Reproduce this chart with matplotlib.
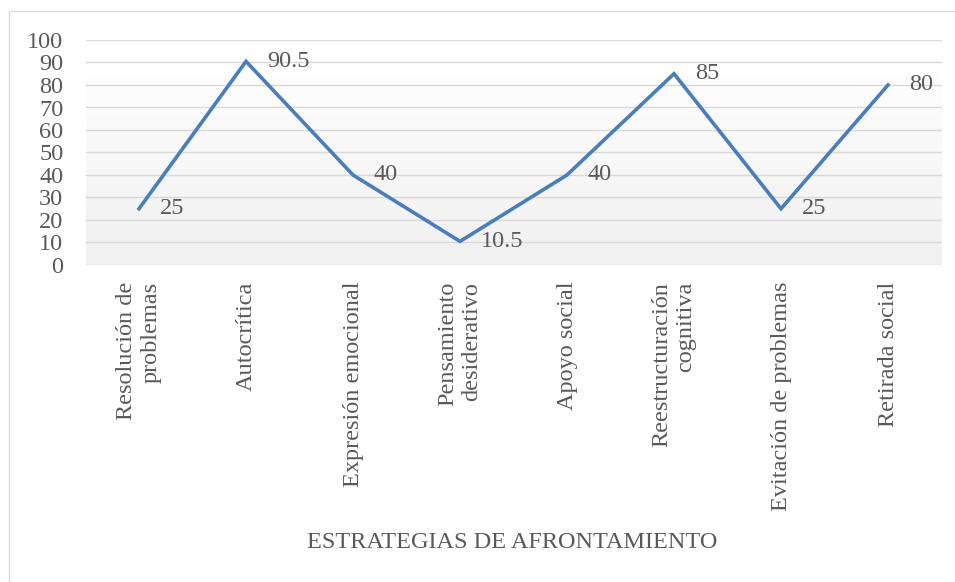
import numpy as np
import matplotlib.pyplot as plt
from matplotlib.patches import Rectangle

# data
categorias = ["Resolución de\nproblemas", "Autocrítica", "Expresión emocional",
              "Pensamiento\ndesiderativo", "Apoyo social", "Reestructuración\ncognitiva",
              "Evitación de problemas", "Retirada social"]
valores = [25, 90.5, 40, 10.5, 40, 85, 25, 80]
etiquetas = ["25", "90.5", "40", "10.5", "40", "85", "25", "80"]
yticks = list(range(0, 101, 10))
titulo_x = "ESTRATEGIAS DE AFRONTAMIENTO"

plt.rcParams['font.family'] = ['Liberation Serif', 'DejaVu Serif']
gris = '#595959'
fs = 17.5

fig = plt.figure(figsize=(9.55, 5.82), dpi=100)
ax = fig.add_axes([85.5/955, 1-265/582, 856/955, 225/582])

x = np.arange(len(categorias))

# gradient fill of the plot area (white at the top, light grey at the bottom)
grad = np.linspace(1.0, 0.0, 256).reshape(-1, 1)
ax.imshow(grad, cmap=plt.matplotlib.colors.LinearSegmentedColormap.from_list(
    'g', ['#f0f0f0', '#ffffff']), aspect='auto',
    extent=(-0.5, len(x)-0.5, 0, 90), origin='upper', zorder=0)

for t in yticks:
    ax.axhline(t, color='#d9d9d9', lw=1, zorder=1)

ax.plot(x, valores, color='#4a7ebb', lw=2.6, solid_joinstyle='miter', zorder=3)

for xi, v, lab in zip(x, valores, etiquetas):
    ax.annotate(lab, (xi, v), xytext=(15, 0), textcoords='offset points',
                ha='left', va='center', fontsize=fs, color=gris)

ax.set_xlim(-0.5, len(x)-0.5)
ax.set_ylim(0, 100)
ax.set_yticks(yticks)
ax.set_xticks(x)
ax.set_xticklabels(categorias, rotation=90, ha='center', va='top',
                   multialignment='right', linespacing=1.2)
ax.tick_params(axis='y', length=0, pad=16, labelsize=fs, labelcolor=gris)
ax.tick_params(axis='x', length=0, pad=12, labelsize=fs, labelcolor=gris)
for s in ax.spines.values():
    s.set_visible(False)

fig.text(512/955, 1-543/582, titulo_x, ha='center', va='center',
         fontsize=fs, color=gris)

# outer chart border
fig.patches.append(Rectangle((9/955, -0.1), 1.2, 1-11/582+0.1, transform=fig.transFigure,
                             fill=False, edgecolor='#d9d9d9', lw=1))

fig.savefig('out.png', dpi=100)
